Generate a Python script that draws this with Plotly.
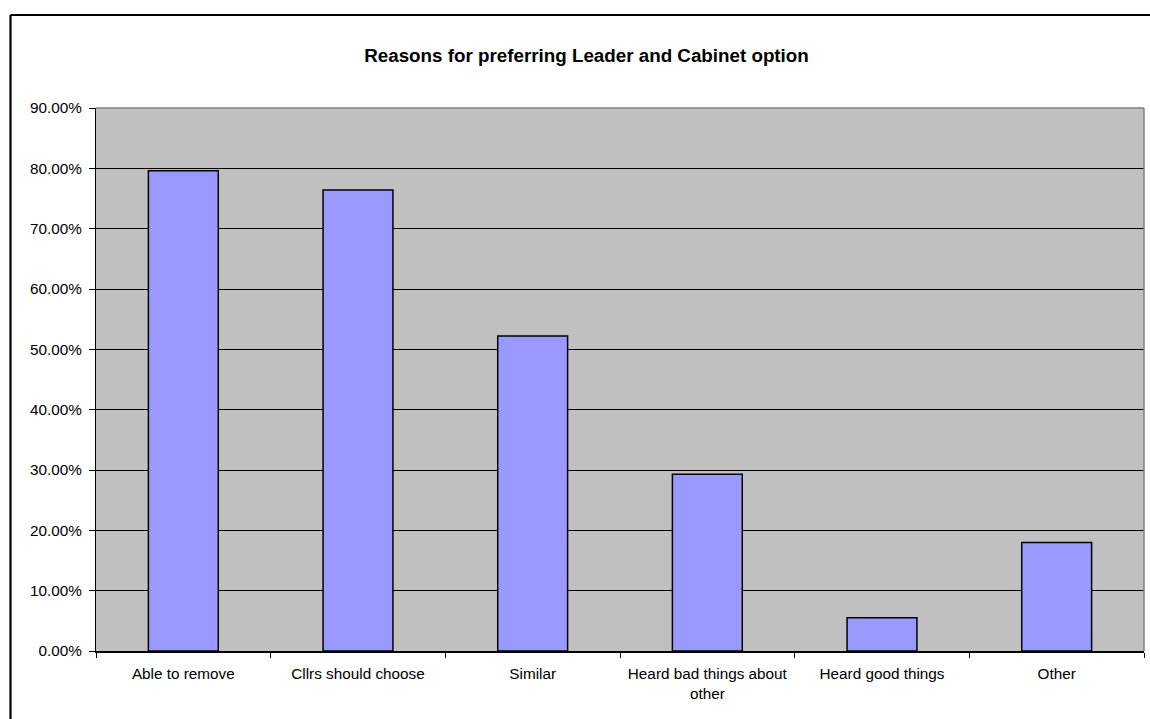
import plotly.graph_objects as go

categories = ["Able to remove", "Cllrs should choose", "Similar",
              "Heard bad things about<br>other", "Heard good things", "Other"]
values = [0.796, 0.764, 0.522, 0.293, 0.055, 0.180]
title_text = "Reasons for preferring Leader and Cabinet option"

W, H = 1150, 719
L, R, T, B = 96, 1144, 108, 651

fig = go.Figure(go.Bar(
    x=categories, y=values, width=0.4,
    marker=dict(color="#9999FF", line=dict(color="#000000", width=1.5)),
    hoverinfo="skip",
))

fig.update_layout(
    width=W, height=H,
    margin=dict(l=L, r=W - R, t=T, b=H - B, pad=0),
    paper_bgcolor="white", plot_bgcolor="#C0C0C0",
    font=dict(family="Liberation Sans, Arial, sans-serif", size=15.3, color="black"),
    showlegend=False,
    bargap=0.6,
    title=dict(text="<b>" + title_text + "</b>", x=586.5 / W, xanchor="center",
               y=1 - 55 / H, yanchor="middle",
               font=dict(size=18.8, family="Liberation Sans, Arial, sans-serif")),
)

fig.update_yaxes(range=[0, 0.9], dtick=0.1, tickformat=".2%",
                 showgrid=True, gridcolor="#000000", gridwidth=1,
                 ticks="outside", ticklen=6, tickcolor="#000000",
                 showline=True, linecolor="#000000", linewidth=1,
                 zeroline=False, ticklabelstandoff=4, fixedrange=True)
fig.update_xaxes(type="category", showgrid=False,
                 ticks="outside", tickson="boundaries", ticklen=5, tickcolor="#000000",
                 showline=True, linecolor="#000000", linewidth=1.5,
                 ticklabelstandoff=8, fixedrange=True)

pw, ph = R - L, B - T
fx = lambda px: (px - L) / pw
fy = lambda py: (B - py) / ph

# plot area top/right border (grey)
fig.add_shape(type="line", xref="paper", yref="paper", x0=0, x1=1, y0=1, y1=1,
              line=dict(color="#808080", width=1.5))
fig.add_shape(type="line", xref="paper", yref="paper", x0=1, x1=1, y0=0, y1=1,
              line=dict(color="#808080", width=1.5))
# outer chart frame (extends past right/bottom edge)
fig.add_shape(type="line", xref="paper", yref="paper", x0=fx(10.5), x1=fx(1200),
              y0=fy(15), y1=fy(15), line=dict(color="#000000", width=2.2))
fig.add_shape(type="line", xref="paper", yref="paper", x0=fx(10.5), x1=fx(10.5),
              y0=fy(15), y1=fy(760), line=dict(color="#000000", width=2.2))

fig.write_html("out.html",
               config={"displayModeBar": False},
               post_script="document.body.style.margin='0';"
                           "document.body.style.overflow='hidden';")
